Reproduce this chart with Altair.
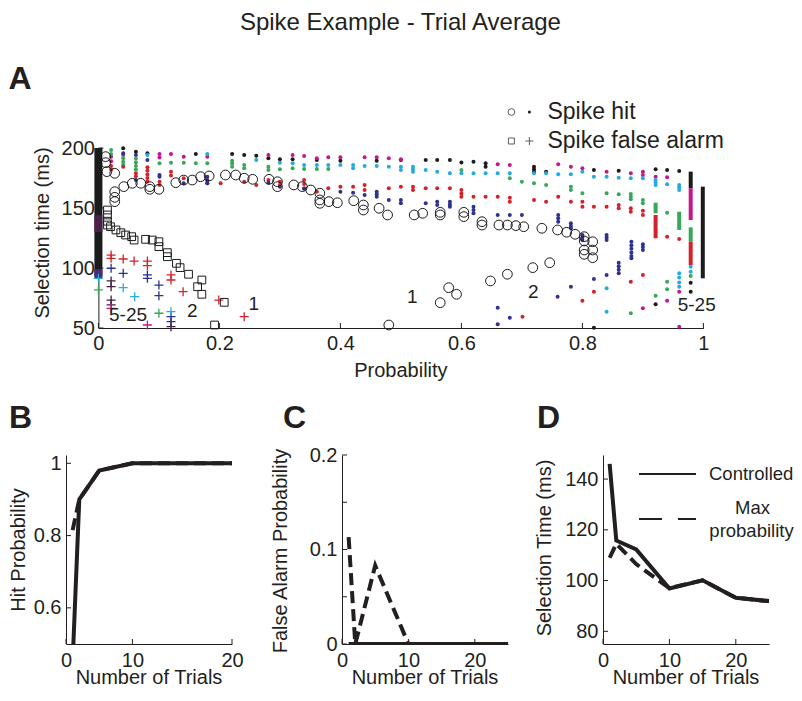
import altair as alt
import pandas as pd

FONT = "Liberation Sans"
INK = "#231f20"
BLACK = "#1b1b1b"
MAG = "#c1198c"
CYAN = "#26a9e0"
GREEN = "#39a759"
RED = "#d2232a"
BLUE = "#2e3192"
PURP = "#3f1d3f"

# ---------------- Panel A data (probability, selection time in ms) ----------------
# single-trial hits (open circles)
circ_p = [0.012, 0.012, 0.014, 0.027, 0.027, 0.027, 0.027, 0.042, 0.056, 0.070, 0.085, 0.085,
          0.100, 0.128, 0.141, 0.155, 0.169, 0.183, 0.210, 0.227, 0.241, 0.255, 0.282, 0.296,
          0.296, 0.323, 0.337, 0.351, 0.366, 0.366, 0.366, 0.381, 0.395, 0.422, 0.438, 0.438,
          0.464, 0.478, 0.522, 0.536, 0.565, 0.565, 0.604, 0.604, 0.634, 0.634, 0.662, 0.676,
          0.690, 0.703, 0.733, 0.759, 0.774, 0.788, 0.803, 0.803, 0.817, 0.803, 0.803, 0.817,
          0.817, 0.565, 0.579, 0.592, 0.648, 0.676, 0.718, 0.746, 0.480]
circ_ms = [192.8, 187.8, 180.3, 178.9, 163.6, 158.9, 155.3, 167.8, 170.6, 170.6, 167.8, 165.6,
           165.6, 171.1, 173.3, 173.3, 176.1, 176.7, 177.5, 177.5, 174.8, 173.9, 173.9, 171.9,
           167.8, 169.2, 167.8, 165.0, 162.3, 156.7, 153.9, 155.3, 154.4, 156.1, 152.5, 148.3,
           149.8, 144.2, 144.2, 145.6, 146.4, 144.2, 146.4, 142.8, 138.6, 135.8, 135.8, 135.8,
           135.3, 134.4, 133.1, 131.7, 129.8, 128.1, 126.1, 122.5, 121.9, 115.0, 111.4, 115.0,
           108.6, 71.1, 83.6, 78.1, 89.2, 94.8, 100.3, 104.4, 52.5]

# single-trial false alarms (open squares)
sq_p = [0.015, 0.015, 0.015, 0.015, 0.020, 0.029, 0.037, 0.045, 0.055, 0.059, 0.078, 0.089,
        0.100, 0.100, 0.114, 0.114, 0.129, 0.135, 0.149, 0.171, 0.164, 0.171, 0.208, 0.192]
sq_ms = [148.3, 144.2, 139.0, 135.8, 134.4, 131.7, 129.4, 127.5, 126.1, 123.3, 123.9, 123.3,
         121.9, 117.8, 112.8, 109.4, 103.9, 100.3, 94.8, 90.0, 84.4, 78.1, 71.4, 52.5]

# multi-trial hits (small dots), one list per colour
dots_black = [(0.041, 199.8), (0.062, 196.9), (0.081, 195.6), (0.161, 195.0), (0.221, 195.0),
              (0.241, 194.2), (0.261, 193.6), (0.281, 191.4), (0.300, 190.6), (0.321, 190.6),
              (0.361, 190.0), (0.400, 189.4), (0.460, 189.4), (0.500, 190.0), (0.541, 190.0),
              (0.560, 190.0), (0.581, 190.0), (0.600, 188.0), (0.620, 188.6), (0.640, 187.3),
              (0.640, 184.4), (0.720, 184.4), (0.720, 182.3), (0.720, 180.3), (0.740, 180.3),
              (0.819, 181.7), (0.860, 181.1), (0.921, 182.3), (0.940, 181.7), (0.960, 180.8),
              (0.921, 69.8), (0.979, 87.8), (0.979, 80.3), (0.819, 50.3)]
dots_magenta = [(0.021, 192.8), (0.021, 189.0), (0.041, 194.2), (0.101, 195.0), (0.101, 192.0),
                (0.120, 195.0), (0.141, 192.8), (0.180, 192.8), (0.281, 194.2), (0.321, 194.2),
                (0.340, 193.3), (0.361, 191.4), (0.380, 192.3), (0.400, 192.3), (0.440, 192.3),
                (0.460, 192.3), (0.480, 191.4), (0.500, 190.6), (0.660, 186.4), (0.680, 185.8),
                (0.760, 186.4), (0.781, 184.4), (0.800, 183.1), (0.840, 180.3), (0.880, 178.9),
                (0.900, 180.3), (0.900, 177.5), (0.921, 176.1), (0.940, 175.6), (0.900, 66.4),
                (0.940, 72.8), (0.960, 80.3), (0.960, 51.1)]
dots_cyan = [(0.081, 194.2), (0.180, 195.0), (0.261, 190.0), (0.300, 187.8), (0.321, 187.3),
             (0.340, 185.8), (0.361, 185.8), (0.380, 185.8), (0.400, 185.8), (0.421, 185.8),
             (0.421, 183.1), (0.440, 185.0), (0.460, 185.0), (0.480, 184.4), (0.500, 184.4),
             (0.500, 181.7), (0.520, 184.4), (0.520, 182.3), (0.520, 180.3), (0.541, 181.7),
             (0.560, 180.3), (0.581, 178.9), (0.600, 178.9), (0.620, 178.9), (0.640, 178.9),
             (0.660, 178.9), (0.680, 178.9), (0.720, 178.9), (0.740, 178.9), (0.760, 178.1),
             (0.781, 178.1), (0.800, 180.3), (0.819, 176.1), (0.840, 176.1), (0.860, 175.3),
             (0.880, 174.8), (0.900, 174.8), (0.921, 173.3), (0.921, 171.2), (0.921, 169.2),
             (0.940, 169.8), (0.960, 169.2), (0.960, 167.0), (0.960, 165.0), (0.840, 83.1),
             (0.840, 63.6), (0.960, 95.6), (0.960, 92.0), (0.960, 88.0), (0.960, 84.4),
             (0.979, 101.1), (0.979, 96.9)]
dots_green = [(0.021, 198.3), (0.021, 195.0), (0.041, 191.4), (0.041, 188.5), (0.041, 186.0),
              (0.062, 191.0), (0.062, 188.0), (0.062, 185.0), (0.062, 182.0), (0.101, 187.3),
              (0.120, 187.8), (0.141, 187.8), (0.161, 187.3), (0.180, 187.3), (0.221, 189.4),
              (0.221, 187.0), (0.221, 184.4), (0.241, 185.8), (0.241, 183.1), (0.281, 184.4),
              (0.281, 181.7), (0.300, 182.3), (0.321, 183.1), (0.340, 182.5), (0.361, 182.5),
              (0.380, 182.5), (0.600, 181.7), (0.680, 174.8), (0.700, 171.9), (0.720, 170.6),
              (0.740, 169.2), (0.781, 167.8), (0.781, 165.0), (0.800, 162.3), (0.840, 162.3),
              (0.860, 161.4), (0.880, 161.7), (0.880, 159.4), (0.880, 157.3), (0.900, 156.7),
              (0.900, 153.9), (0.940, 146.1), (0.880, 62.3), (0.921, 76.9), (0.940, 88.6),
              (0.940, 82.3), (0.979, 93.3)]
dots_red = [(0.021, 185.0), (0.021, 182.0), (0.041, 184.4), (0.062, 179.0), (0.062, 176.5),
            (0.081, 184.0), (0.081, 181.0), (0.081, 178.0), (0.081, 175.0), (0.081, 172.0),
            (0.101, 171.9), (0.101, 169.2), (0.120, 180.3), (0.120, 177.0), (0.141, 174.8),
            (0.180, 173.3), (0.180, 170.6), (0.202, 170.6), (0.241, 171.9), (0.261, 169.2),
            (0.281, 173.3), (0.300, 171.9), (0.300, 169.2), (0.340, 173.3), (0.340, 170.0),
            (0.340, 166.4), (0.361, 163.6), (0.380, 166.4), (0.400, 167.8), (0.421, 167.8),
            (0.440, 169.2), (0.440, 165.0), (0.480, 166.4), (0.500, 167.8), (0.520, 167.8),
            (0.520, 165.0), (0.541, 166.4), (0.560, 166.4), (0.581, 166.4), (0.600, 165.0),
            (0.600, 162.0), (0.600, 159.4), (0.620, 159.4), (0.640, 159.4), (0.660, 159.4),
            (0.680, 158.6), (0.680, 155.3), (0.720, 156.7), (0.740, 155.3), (0.760, 159.4),
            (0.781, 155.3), (0.800, 155.3), (0.800, 151.1), (0.819, 151.1), (0.840, 151.1),
            (0.860, 152.5), (0.860, 149.8), (0.880, 149.8), (0.880, 146.9), (0.900, 147.8),
            (0.900, 144.2), (0.940, 126.1), (0.960, 124.2), (0.800, 72.8), (0.819, 80.3),
            (0.880, 88.6), (0.900, 94.2), (0.701, 59.4)]
dots_blue = [(0.041, 195.6), (0.062, 194.2), (0.062, 173.3), (0.081, 190.0), (0.101, 177.5),
             (0.101, 176.1), (0.141, 170.6), (0.180, 176.0), (0.180, 173.0), (0.180, 170.6),
             (0.281, 171.1), (0.300, 167.8), (0.340, 166.0), (0.400, 163.6), (0.421, 162.8),
             (0.440, 160.8), (0.460, 163.6), (0.460, 161.5), (0.460, 159.4), (0.480, 156.7),
             (0.500, 156.7), (0.500, 153.9), (0.541, 153.9), (0.560, 155.3), (0.560, 152.5),
             (0.581, 155.3), (0.581, 153.0), (0.581, 151.1), (0.620, 151.1), (0.620, 148.3),
             (0.620, 145.6), (0.660, 144.2), (0.680, 144.2), (0.700, 144.2), (0.760, 144.2),
             (0.760, 141.4), (0.760, 138.6), (0.781, 137.3), (0.781, 135.0), (0.781, 133.1),
             (0.800, 127.5), (0.800, 125.4), (0.800, 123.3), (0.840, 127.5), (0.840, 125.4),
             (0.840, 123.3), (0.860, 104.4), (0.860, 101.5), (0.860, 98.5), (0.860, 95.6),
             (0.881, 121.9), (0.881, 119.0), (0.881, 116.0), (0.881, 113.0), (0.881, 110.0),
             (0.881, 108.1), (0.900, 119.8), (0.900, 117.4), (0.900, 115.0), (0.840, 94.2),
             (0.759, 76.1), (0.781, 84.4), (0.819, 90.8), (0.660, 66.9), (0.660, 53.1),
             (0.680, 58.6)]

# multi-trial false alarms (plus signs), one list per colour
plus_red = [(0.021, 110.8), (0.021, 108.1), (0.041, 107.5), (0.059, 105.8), (0.081, 105.8),
            (0.081, 101.9), (0.120, 94.2), (0.120, 90.0), (0.140, 80.3), (0.199, 73.3),
            (0.241, 59.4)]
plus_blue = [(0.021, 99.8), (0.041, 95.6), (0.081, 94.2), (0.081, 91.4), (0.100, 85.8),
             (0.100, 76.9), (0.120, 59.4), (0.120, 55.3)]
plus_cyan = [(0.0, 91.4), (0.041, 83.6), (0.060, 76.1), (0.120, 63.6)]
plus_green = [(0.0, 81.7), (0.100, 62.3)]
plus_dark = [(0.021, 89.2), (0.021, 84.4), (0.021, 73.3), (0.021, 69.2), (0.120, 51.1)]
plus_magenta = [(0.021, 66.4), (0.081, 52.5)]

# dense stacks of overlapping markers: (probability, ms low, ms high, colour, width)
stacks = [(0.0, 93.0, 200.0, BLACK, 8), (0.0, 91.5, 99.0, "#4b2a78", 8),
          (0.0, 130.0, 144.0, "#4a1f4a", 8),
          (0.921, 124.8, 144.2, RED, 4), (0.921, 145.6, 154.4, GREEN, 4),
          (0.960, 131.7, 146.9, GREEN, 4),
          (0.979, 166.4, 180.3, BLACK, 4), (0.979, 140.0, 166.4, MAG, 4),
          (0.979, 121.9, 133.9, GREEN, 4), (0.979, 102.5, 121.9, RED, 4),
          (0.999, 91.4, 167.8, BLACK, 4)]

# trial-count annotations
ann_text = ["5-25", "2", "1", "1", "2", "5-25"]
ann_p = [0.049, 0.155, 0.257, 0.519, 0.719, 0.989]
ann_ms = [60.8, 64.3, 70.0, 76.1, 79.6, 69.2]

A_xticks = [0, 0.2, 0.4, 0.6, 0.8, 1]
A_yticks = [50, 100, 150, 200]

# ---------------- Panels B-D data ----------------
trials = [1, 2, 5, 10, 15, 20, 25]
hit_controlled = [0.45, 0.90, 0.98, 1.0, 1.0, 1.0, 1.0]
hit_maxprob = [0.815, 0.90, 0.98, 1.0, 1.0, 1.0, 1.0]
fa_controlled = [0, 0, 0, 0, 0, 0, 0]
fa_maxprob = [0.113, 0.0, 0.083, 0.0, 0.0, 0.0, 0.0]
st_controlled = [146.0, 115.8, 112.3, 96.9, 100.1, 93.2, 91.9]
st_maxprob = [109.0, 114.5, 106.5, 97.0, 100.1, 93.2, 91.9]

# ---------------- helpers ----------------
one = pd.DataFrame({"k": [0]})


def txt(s, x, y, size=20, align="left", baseline="middle", weight="normal", angle=0):
    kw = dict(text=s, font=FONT, fontSize=size, align=align, baseline=baseline,
              fontWeight=weight, color=INK)
    if angle:
        kw["angle"] = angle
    return alt.Chart(one).mark_text(**kw).encode(x=alt.value(x), y=alt.value(y))


def axis(**kw):
    base = dict(grid=False, ticks=False, domain=True, domainColor=INK, domainWidth=1,
                labelFont=FONT, labelFontSize=20, labelColor=INK, title=None,
                labelOverlap=False, labelFlush=False, format="~f")
    base.update(kw)
    return alt.Axis(**base)


# ---------------- Panel A ----------------
WA, HA = 605, 180
xA = alt.Scale(domain=[0, 1], nice=False, zero=False)
yA = alt.Scale(domain=[50, 200], nice=False, zero=False)
axAx = axis(values=A_xticks, labelPadding=5)
axAy = axis(values=A_yticks, labelPadding=4)


def XA(f):
    return alt.X(f, scale=xA, axis=axAx)


def YA(f):
    return alt.Y(f, scale=yA, axis=axAy)


seg_df = pd.DataFrame(stacks, columns=["p", "lo", "hi", "c", "w"])
seg = alt.Chart(seg_df).mark_rule(strokeCap="butt").encode(
    x=XA("p:Q"), y=YA("lo:Q"), y2="hi:Q",
    color=alt.Color("c:N", scale=None),
    strokeWidth=alt.StrokeWidth("w:Q", scale=None))

dot_rows = []
for col, pts in [(BLACK, dots_black), (MAG, dots_magenta), (CYAN, dots_cyan),
                 (GREEN, dots_green), (RED, dots_red), (BLUE, dots_blue)]:
    for p, ms in pts:
        dot_rows.append({"p": p, "ms": ms, "c": col})
dots = alt.Chart(pd.DataFrame(dot_rows)).mark_circle(size=16, opacity=1).encode(
    x=XA("p:Q"), y=YA("ms:Q"), color=alt.Color("c:N", scale=None))

plus_rows = []
for col, pts in [(RED, plus_red), (BLUE, plus_blue), (CYAN, plus_cyan), (GREEN, plus_green),
                 (PURP, plus_dark), (MAG, plus_magenta)]:
    for p, ms in pts:
        plus_rows.append({"p": p, "ms": ms, "c": col})
PLUS = "M-1,0L1,0M0,-1L0,1"
pluses = alt.Chart(pd.DataFrame(plus_rows)).mark_point(shape=PLUS, size=81, filled=False,
                                                       strokeWidth=1.3, opacity=1).encode(
    x=XA("p:Q"), y=YA("ms:Q"), color=alt.Color("c:N", scale=None))

squares = alt.Chart(pd.DataFrame({"p": sq_p, "ms": sq_ms})).mark_point(
    shape="square", size=60, filled=False, color=BLACK, strokeWidth=1, opacity=1).encode(
    x=XA("p:Q"), y=YA("ms:Q"))

circles = alt.Chart(pd.DataFrame({"p": circ_p, "ms": circ_ms})).mark_point(
    shape="circle", size=95, filled=False, color=BLACK, strokeWidth=1, opacity=1).encode(
    x=XA("p:Q"), y=YA("ms:Q"))

ann = alt.Chart(pd.DataFrame({"t": ann_text, "p": ann_p, "ms": ann_ms})).mark_text(
    font=FONT, fontSize=19, color=INK, align="center", baseline="middle").encode(
    x=XA("p:Q"), y=YA("ms:Q"), text="t:N")

tA_x = alt.Chart(pd.DataFrame({"v": A_xticks})).mark_rule(color=INK, strokeWidth=1).encode(
    x=XA("v:Q"), y=alt.value(HA), y2=alt.value(HA - 5))
tA_y = alt.Chart(pd.DataFrame({"v": A_yticks})).mark_rule(color=INK, strokeWidth=1).encode(
    y=YA("v:Q"), x=alt.value(0), x2=alt.value(5))

leg_c = alt.Chart(one).mark_point(shape="circle", size=45, filled=False, color=BLACK,
                                  strokeWidth=1).encode(x=alt.value(413), y=alt.value(-36))
leg_d = alt.Chart(one).mark_circle(size=9, color=BLACK, opacity=1).encode(
    x=alt.value(431), y=alt.value(-36))
leg_s = alt.Chart(one).mark_point(shape="square", size=36, filled=False, color=BLACK,
                                  strokeWidth=1).encode(x=alt.value(413), y=alt.value(-7))
leg_p = alt.Chart(one).mark_point(shape=PLUS, size=64, filled=False, color=BLACK,
                                  strokeWidth=1).encode(x=alt.value(431), y=alt.value(-7))

panelA = alt.layer(
    seg, dots, pluses, squares, circles, ann, tA_x, tA_y,
    leg_c, leg_d, leg_s, leg_p,
    txt("Spike hit", 449, -36, size=23),
    txt("Spike false alarm", 449, -7, size=23),
    txt("Probability", WA / 2, 223, align="center"),
    txt("Selection time (ms)", -55, 85, align="center", angle=270),
    txt("A", -90, -59, size=32, baseline="alphabetic", weight="bold"),
    txt("Spike Example - Trial Average", 302, -125.5, size=24, align="center"),
).properties(width=WA, height=HA)


# ---------------- Panels B, C, D ----------------
W, H = 166, 189


def small_panel(solid, dashed, ydom, xlab, ylab, xtk, ytk, ytitle, ytitle_x, ytitle_y, letter,
                letter_x, xexpr=None, extra=()):
    xs = alt.Scale(domain=[0, 25], nice=False, zero=False)
    ys = alt.Scale(domain=ydom, nice=False, zero=False)
    xk = dict(values=xlab, labelPadding=6)
    if xexpr:
        xk["labelExpr"] = xexpr
    xax = axis(**xk)
    yax = axis(values=ylab, labelPadding=5)
    df = pd.DataFrame({"n": trials, "solid": solid, "dash": dashed})
    dl = alt.Chart(df).mark_line(color=INK, strokeWidth=4, strokeDash=[12, 6], clip=True).encode(
        x=alt.X("n:Q", scale=xs, axis=xax), y=alt.Y("dash:Q", scale=ys, axis=yax))
    sl = alt.Chart(df).mark_line(color=INK, strokeWidth=4, clip=True).encode(
        x=alt.X("n:Q", scale=xs, axis=xax), y=alt.Y("solid:Q", scale=ys, axis=yax))
    tx = alt.Chart(pd.DataFrame({"v": xtk})).mark_rule(color=INK, strokeWidth=1).encode(
        x=alt.X("v:Q", scale=xs, axis=xax), y=alt.value(H), y2=alt.value(H - 5))
    ty = alt.Chart(pd.DataFrame({"v": ytk})).mark_rule(color=INK, strokeWidth=1).encode(
        y=alt.Y("v:Q", scale=ys, axis=yax), x=alt.value(0), x2=alt.value(5))
    texts = [
        txt(letter, letter_x, -27, size=32, baseline="alphabetic", weight="bold"),
        txt("Number of Trials", W / 2, 222.5, align="center"),
        txt(ytitle, ytitle_x, ytitle_y, align="center", angle=270),
    ]
    return alt.layer(dl, sl, tx, ty, *texts, *extra).properties(width=W, height=H)


panelB = small_panel(hit_controlled, hit_maxprob, [0.5, 1.023], [0, 10, 25], [0.6, 0.8, 1.0],
                     [0, 10, 25], [0.6, 0.8, 1.0], "Hit Probability", -47, 95, "B", -57,
                     xexpr="datum.value == 25 ? '20' : datum.label")
panelC = small_panel(fa_controlled, fa_maxprob, [0, 0.2], [0, 10, 20], [0, 0.1, 0.2],
                     [0, 10, 20], [0, 0.05, 0.1, 0.15, 0.2], "False Alarm Probability", -61, 96,
                     "C", -59)
legD = [
    alt.Chart(one).mark_rule(color=INK, strokeWidth=2).encode(
        x=alt.value(36), x2=alt.value(93), y=alt.value(19)),
    alt.Chart(one).mark_rule(color=INK, strokeWidth=2, strokeDash=[23, 16]).encode(
        x=alt.value(36), x2=alt.value(93), y=alt.value(64)),
    txt("Controlled", 106, 19, size=18.5),
    txt("Max", 149.5, 53, size=18.5, align="center"),
    txt("probability", 148.5, 76, size=18.5, align="center"),
]
panelD = small_panel(st_controlled, st_maxprob, [75, 149.5], [0, 10, 20], [80, 100, 120, 140],
                     [0, 10, 20], [80, 100, 120, 140], "Selection Time (ms)", -58, 93, "D", -66,
                     extra=legD)


def spacer(w, h):
    return alt.Chart(one).mark_point(opacity=0, size=0).encode(
        x=alt.value(0), y=alt.value(0)).properties(width=w, height=h)


row1 = alt.hconcat(spacer(1, HA), panelA, spacing=31.4, bounds="flush")
row2 = alt.hconcat(panelB, spacer(110, H), panelC, spacer(95, H), panelD, spacing=0,
                   bounds="flush")

chart = alt.vconcat(row1, row2, spacing=21).properties(
    padding={"left": 0, "top": 2, "right": 0, "bottom": 0},
    background="white",
).configure_view(stroke=None)

chart.save("out.html", embed_options={"renderer": "svg", "actions": False})
